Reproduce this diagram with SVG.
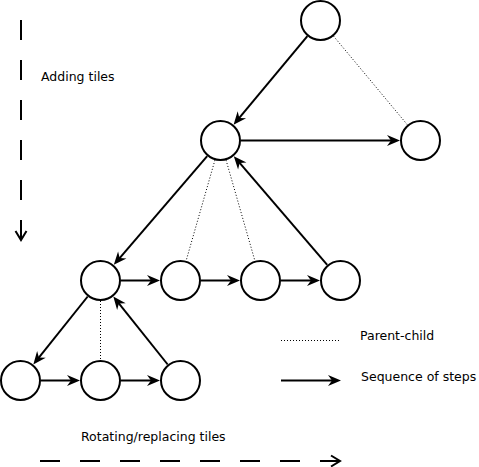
<svg xmlns="http://www.w3.org/2000/svg" width="479" height="467" viewBox="0 0 479 467">
<style>
.node{fill:#fff;stroke:#000;stroke-width:2}
.seq{fill:none;stroke:#000;stroke-width:2;marker-end:url(#arr)}
.pc{fill:none;stroke:#000;stroke-width:1;stroke-dasharray:1 2}
.dash{fill:none;stroke:#000;stroke-width:2;stroke-dasharray:20 20;marker-end:url(#open)}
.lbl{font-family:"DejaVu Sans",sans-serif;font-size:12.5px;fill:#000}
</style>
<defs>
<marker id="arr" markerUnits="userSpaceOnUse" viewBox="-8 -6 15 12" refX="0" refY="0" markerWidth="15" markerHeight="12" orient="auto" overflow="visible">
<path d="M6,0 L-7,-5.5 L-3,0 L-7,5.5 Z" fill="#000"/>
</marker>
<marker id="open" markerUnits="userSpaceOnUse" viewBox="-11 -7 13 14" refX="0" refY="0" markerWidth="13" markerHeight="14" orient="auto" overflow="visible">
<path d="M-9,-5.5 L0,0 L-9,5.5" fill="none" stroke="#000" stroke-width="2"/>
</marker>
</defs>
<rect width="479" height="467" fill="#fff"/>
<g id="connectors">
<line class="seq" x1="307.4" y1="36.2" x2="237.4" y2="120.2"/>
<line class="pc" x1="333.6" y1="36.2" x2="407.4" y2="124.8"/>
<line class="seq" x1="241" y1="140.5" x2="394" y2="140.5"/>
<line class="seq" x1="207.2" y1="156.1" x2="117.7" y2="260.3"/>
<line class="pc" x1="214.9" y1="160.2" x2="186.1" y2="260.8"/>
<line class="pc" x1="226.1" y1="160.2" x2="254.9" y2="260.8"/>
<line class="seq" x1="327.2" y1="264.9" x2="237.7" y2="160.7"/>
<line class="seq" x1="121" y1="280.5" x2="154" y2="280.5"/>
<line class="seq" x1="201" y1="280.5" x2="234" y2="280.5"/>
<line class="seq" x1="281" y1="280.5" x2="314" y2="280.5"/>
<line class="seq" x1="87.7" y1="296.5" x2="37.05" y2="359.8"/>
<line class="pc" x1="100.5" y1="301" x2="100.5" y2="360"/>
<line class="seq" x1="167.7" y1="364.5" x2="117.05" y2="301.2"/>
<line class="seq" x1="41" y1="380.5" x2="74" y2="380.5"/>
<line class="seq" x1="121" y1="380.5" x2="154" y2="380.5"/>
</g>
<g id="nodeA"><circle class="node" cx="320.5" cy="20.5" r="19.5"/></g>
<g id="nodeB"><circle class="node" cx="220.5" cy="140.5" r="19.5"/></g>
<g id="nodeC"><circle class="node" cx="420.5" cy="140.5" r="19.5"/></g>
<g id="nodeD"><circle class="node" cx="100.5" cy="280.5" r="19.5"/></g>
<g id="nodeE"><circle class="node" cx="180.5" cy="280.5" r="19.5"/></g>
<g id="nodeF"><circle class="node" cx="260.5" cy="280.5" r="19.5"/></g>
<g id="nodeG"><circle class="node" cx="340.5" cy="280.5" r="19.5"/></g>
<g id="nodeH"><circle class="node" cx="20.5" cy="380.5" r="19.5"/></g>
<g id="nodeI"><circle class="node" cx="100.5" cy="380.5" r="19.5"/></g>
<g id="nodeJ"><circle class="node" cx="180.5" cy="380.5" r="19.5"/></g>
<g id="legend">
<line class="dash" x1="21" y1="20" x2="21" y2="240"/>
<text class="lbl" x="41" y="81">Adding tiles</text>
<line class="pc" x1="281" y1="340.5" x2="339" y2="340.5"/>
<text class="lbl" x="360" y="340">Parent-child</text>
<line class="seq" x1="281" y1="380.5" x2="335" y2="380.5"/>
<text class="lbl" x="361" y="381">Sequence of steps</text>
<text class="lbl" x="81" y="441">Rotating/replacing tiles</text>
<line class="dash" x1="40" y1="461" x2="340" y2="461"/>
</g>
</svg>
